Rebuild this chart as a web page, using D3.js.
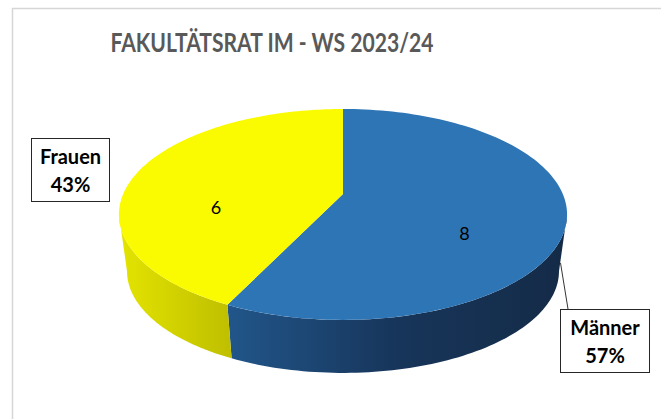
<!DOCTYPE html>
<html>
<head>
<meta charset="utf-8">
<script src="https://cdn.jsdelivr.net/npm/d3@7"></script>
<style>
body { margin: 0; background: #fff; }
svg { display: block; font-family: Lato, "Open Sans", sans-serif; }
</style>
</head>
<body>
<svg id="chart" width="661" height="419"></svg>
<script>
// chart data
var title = "FAKULTÄTSRAT IM - WS 2023/24";
var categories = ["Männer", "Frauen"];
var values = [8, 6];
var topColors = ["#2e75b6", "#fafa00"];
var sideColors = [["#21568a", "#17355a", "#142b47"], ["#e4e400", "#d2d200", "#c0c000"]];

var svg = d3.select("#chart");

// 3d view: center of the top face, radii, perspective and thickness
var cx = 343, cy = 194, ax = 219.8, ay = 101.5, persp = 0.194;
var depth = 57.5, bottomScale = 0.964;
var total = d3.sum(values);

// project angle a (clockwise from top), radius fraction r, height fraction h (0 top, 1 bottom)
function proj(a, r, h) {
	h = h || 0;
	var u = Math.sin(a) * r, v = -Math.cos(a) * r;
	var w = 1 - persp * v;
	var s = 1 - (1 - bottomScale) * h;
	return [cx + s * ax * u / w, cy + depth * h + s * ay * v / w];
}

// frame
svg.append("path")
	.attr("d", "M12.5,419 L12.5,8.5 L661,8.5")
	.attr("fill", "none")
	.attr("stroke", "#d6d6d6")
	.attr("stroke-width", 1.5);

// title
svg.append("text")
	.attr("x", 272)
	.attr("y", 52)
	.attr("text-anchor", "middle")
	.attr("font-size", 26)
	.attr("font-weight", "bold")
	.attr("fill", "#595959")
	.attr("textLength", 323)
	.attr("lengthAdjust", "spacingAndGlyphs")
	.text(title);

var pie = d3.pie().sort(null).value(function(d) { return d; });
var arcs = pie(values);

// visible part of the wall lies between the two silhouette angles
var silA = Math.acos(-persp), silB = 2 * Math.PI - silA;
function frontRange(d) {
	return [Math.max(d.startAngle, silA), Math.min(d.endAngle, silB)];
}

function angleSteps(s, e, n) {
	return d3.range(0, n + 1).map(function(k) { return s + (e - s) * k / n; });
}

// gradients for the side walls
var defs = svg.append("defs");
arcs.forEach(function(d, i) {
	var r = frontRange(d);
	if (r[0] >= r[1]) return;
	var xs = angleSteps(r[0], r[1], 40).map(function(a) { return proj(a, 1)[0]; });
	var g = defs.append("linearGradient")
		.attr("id", "side" + i)
		.attr("gradientUnits", "userSpaceOnUse")
		.attr("x1", d3.min(xs)).attr("x2", d3.max(xs))
		.attr("y1", 0).attr("y2", 0);
	sideColors[i].forEach(function(c, j) {
		g.append("stop").attr("offset", j / (sideColors[i].length - 1)).attr("stop-color", c);
	});
});

// side walls (front half only)
function sidePath(d) {
	var r = frontRange(d);
	if (r[0] >= r[1]) return null;
	var steps = angleSteps(r[0], r[1], 80);
	var top = steps.map(function(a) { return proj(a, 1, 0); });
	var bot = steps.slice().reverse().map(function(a) { return proj(a, 1, 1); });
	return d3.line()(top.concat(bot)) + "Z";
}

svg.selectAll("path.side")
	.data(arcs)
	.enter()
	.append("path")
		.attr("class", "side")
		.attr("d", sidePath)
		.attr("fill", function(d, i) { return "url(#side" + i + ")"; });

// top faces
function topPath(d) {
	var pts = [proj(0, 0)].concat(angleSteps(d.startAngle, d.endAngle, 120).map(function(a) { return proj(a, 1); }));
	return d3.line()(pts) + "Z";
}

svg.selectAll("path.top")
	.data(arcs)
	.enter()
	.append("path")
		.attr("class", "top")
		.attr("d", topPath)
		.attr("fill", function(d, i) { return topColors[i]; });

// value labels, placed at mid thickness
svg.selectAll("text.value")
	.data(arcs)
	.enter()
	.append("text")
		.attr("class", "value")
		.attr("x", function(d) { return proj((d.startAngle + d.endAngle) / 2, 0.59, 0.5)[0] - 6; })
		.attr("y", function(d) { return proj((d.startAngle + d.endAngle) / 2, 0.59, 0.5)[1] + 4; })
		.attr("text-anchor", "middle")
		.attr("font-size", 18)
		.attr("fill", "#000")
		.text(function(d) { return d.value; });

// category labels with boxes
var boxes = [{x: 560, y: 309, w: 89, h: 63}, {x: 31, y: 138, w: 78, h: 63}];

// leader line for Männer
var mid0 = (arcs[0].startAngle + arcs[0].endAngle) / 2;
var p0 = proj(mid0, 1, 0.8);
svg.append("line")
	.attr("x1", p0[0]).attr("y1", p0[1])
	.attr("x2", boxes[0].x + 8).attr("y2", boxes[0].y)
	.attr("stroke", "#000")
	.attr("stroke-width", 0.8);

arcs.forEach(function(d, i) {
	var b = boxes[i];
	var g = svg.append("g");
	g.append("rect")
		.attr("x", b.x + 0.5).attr("y", b.y + 0.5)
		.attr("width", b.w).attr("height", b.h)
		.attr("fill", "#fff")
		.attr("stroke", "#262626")
		.attr("stroke-width", 1);
	g.append("text")
		.attr("x", b.x + b.w / 2 + 0.5)
		.attr("y", b.y + 26)
		.attr("text-anchor", "middle")
		.attr("font-size", 20)
		.attr("font-weight", "bold")
		.attr("fill", "#000")
		.text(categories[i]);
	g.append("text")
		.attr("x", b.x + b.w / 2 + 0.5)
		.attr("y", b.y + 54)
		.attr("text-anchor", "middle")
		.attr("font-size", 20)
		.attr("font-weight", "bold")
		.attr("fill", "#000")
		.text(Math.round(d.value / total * 100) + "%");
});
</script>
</body>
</html>
